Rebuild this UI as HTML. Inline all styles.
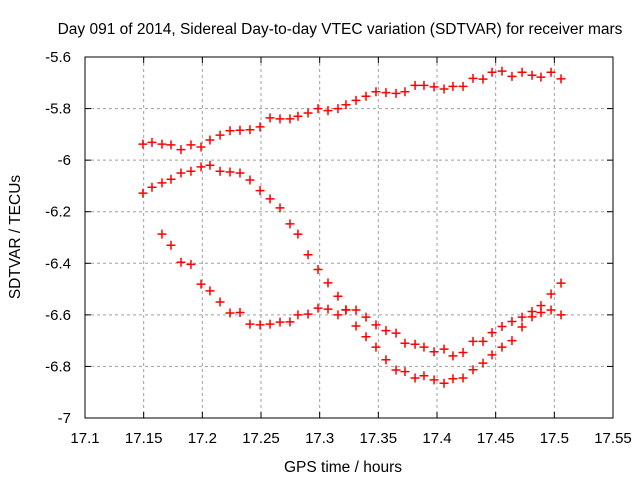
<!DOCTYPE html>
<html><head><meta charset="utf-8"><style>
body{margin:0;background:#fff}
svg{display:block;font-family:"Liberation Sans",sans-serif}
</style></head><body>
<svg id="chart" width="640" height="480" viewBox="0 0 640 480">
<text x="340" y="34" font-size="15.5" text-anchor="middle">Day 091 of 2014, Sidereal Day-to-day VTEC variation (SDTVAR) for receiver mars</text>
<text transform="translate(20,237) rotate(-90)" font-size="15.5" text-anchor="middle">SDTVAR / TECUs</text>
<text x="343" y="472" font-size="15.5" text-anchor="middle">GPS time / hours</text>
<g id="grid"></g>
<g id="ticks"></g>
<g id="marks"></g>
<rect x="85" y="57" width="528" height="361" fill="none" stroke="#000" stroke-width="1"/>
</svg>
<script>
const xTicks=[17.1,17.15,17.2,17.25,17.3,17.35,17.4,17.45,17.5,17.55];
const xTickLabels=["17.1","17.15","17.2","17.25","17.3","17.35","17.4","17.45","17.5","17.55"];
const yTicks=[-7,-6.8,-6.6,-6.4,-6.2,-6,-5.8,-5.6];
const yTickLabels=["-7","-6.8","-6.6","-6.4","-6.2","-6","-5.8","-5.6"];
const times=[17.1494,17.1571,17.1656,17.1733,17.1818,17.1903,17.1989,17.2065,17.2151,17.2236,17.2321,17.2406,17.2492,17.2577,17.2662,17.2747,17.2815,17.2901,17.2986,17.3071,17.3156,17.3224,17.3310,17.3395,17.3480,17.3565,17.3651,17.3727,17.3813,17.3889,17.3975,17.4060,17.4136,17.4222,17.4307,17.4392,17.4469,17.4554,17.4639,17.4725,17.4810,17.4886,17.4972,17.5057];
const seriesA=[-5.938,-5.931,-5.938,-5.941,-5.959,-5.941,-5.949,-5.922,-5.903,-5.886,-5.884,-5.882,-5.871,-5.836,-5.84,-5.84,-5.83,-5.817,-5.80,-5.808,-5.80,-5.785,-5.768,-5.752,-5.735,-5.738,-5.741,-5.735,-5.71,-5.71,-5.716,-5.724,-5.714,-5.714,-5.683,-5.686,-5.659,-5.655,-5.675,-5.659,-5.671,-5.678,-5.659,-5.685];
const seriesB=[-6.128,-6.105,-6.088,-6.074,-6.05,-6.043,-6.026,-6.02,-6.043,-6.046,-6.05,-6.077,-6.118,-6.15,-6.185,-6.247,-6.287,-6.367,-6.424,-6.476,-6.528,-6.58,-6.643,-6.685,-6.725,-6.774,-6.814,-6.82,-6.845,-6.836,-6.852,-6.865,-6.848,-6.845,-6.813,-6.787,-6.755,-6.725,-6.70,-6.647,-6.587,-6.564,-6.519,-6.477];
const seriesC=[null,null,-6.287,-6.33,-6.396,-6.404,-6.481,-6.507,-6.55,-6.593,-6.591,-6.636,-6.639,-6.636,-6.628,-6.627,-6.60,-6.597,-6.574,-6.578,-6.60,-6.581,-6.581,-6.609,-6.639,-6.661,-6.671,-6.71,-6.714,-6.725,-6.743,-6.733,-6.759,-6.746,-6.703,-6.703,-6.669,-6.645,-6.626,-6.609,-6.608,-6.591,-6.581,-6.60];

const NS="http://www.w3.org/2000/svg";
const X0=85,X1=613,Y0=418,Y1=57;
function xs(v){return X0+(v-17.1)/(17.55-17.1)*(X1-X0);}
function ys(v){return Y0-(v-(-7))/((-5.6)-(-7))*(Y0-Y1);}
function mk(tag,attrs,parent){const e=document.createElementNS(NS,tag);for(const k in attrs)e.setAttribute(k,attrs[k]);parent.appendChild(e);return e;}
const grid=document.getElementById('grid'),ticks=document.getElementById('ticks'),marks=document.getElementById('marks');
xTicks.forEach((v,i)=>{
  const x=xs(v);
  if(i>0&&i<xTicks.length-1){
    const g=mk('line',{x1:x,x2:x,y1:Y1,y2:Y0,stroke:'#a0a0a0','stroke-dasharray':'3,3'},grid);
    
    
  }
  mk('line',{x1:x,x2:x,y1:Y0,y2:Y0-6,stroke:'#000'},ticks);
  mk('line',{x1:x,x2:x,y1:Y1,y2:Y1+6,stroke:'#000'},ticks);
  const t=mk('text',{x:x,y:Y0+25,'font-size':15,'text-anchor':'middle'},ticks);
  t.textContent=xTickLabels[i];
  
  
});
yTicks.forEach((v,i)=>{
  const y=ys(v);
  if(i>0&&i<yTicks.length-1){
    const g=mk('line',{x1:X0,x2:X1,y1:y,y2:y,stroke:'#a0a0a0','stroke-dasharray':'3,3'},grid);
    
    
  }
  mk('line',{x1:X0,x2:X0+6,y1:y,y2:y,stroke:'#000'},ticks);
  mk('line',{x1:X1,x2:X1-6,y1:y,y2:y,stroke:'#000'},ticks);
  const t=mk('text',{x:X0-14,y:y+5,'font-size':15,'text-anchor':'end'},ticks);
  t.textContent=yTickLabels[i];
  
  
});
[seriesA,seriesB,seriesC].forEach((s,si)=>{
  s.forEach((v,i)=>{
    if(v===null)return;
    const x=xs(times[i]),y=ys(v);
    const p=mk('path',{d:`M${x-4.5},${y}H${x+4.5}M${x},${y-4.5}V${y+4.5}`,stroke:'#ff0000','stroke-width':1.5,fill:'none'},marks);
    
    
  });
});
</script>
</body></html>
